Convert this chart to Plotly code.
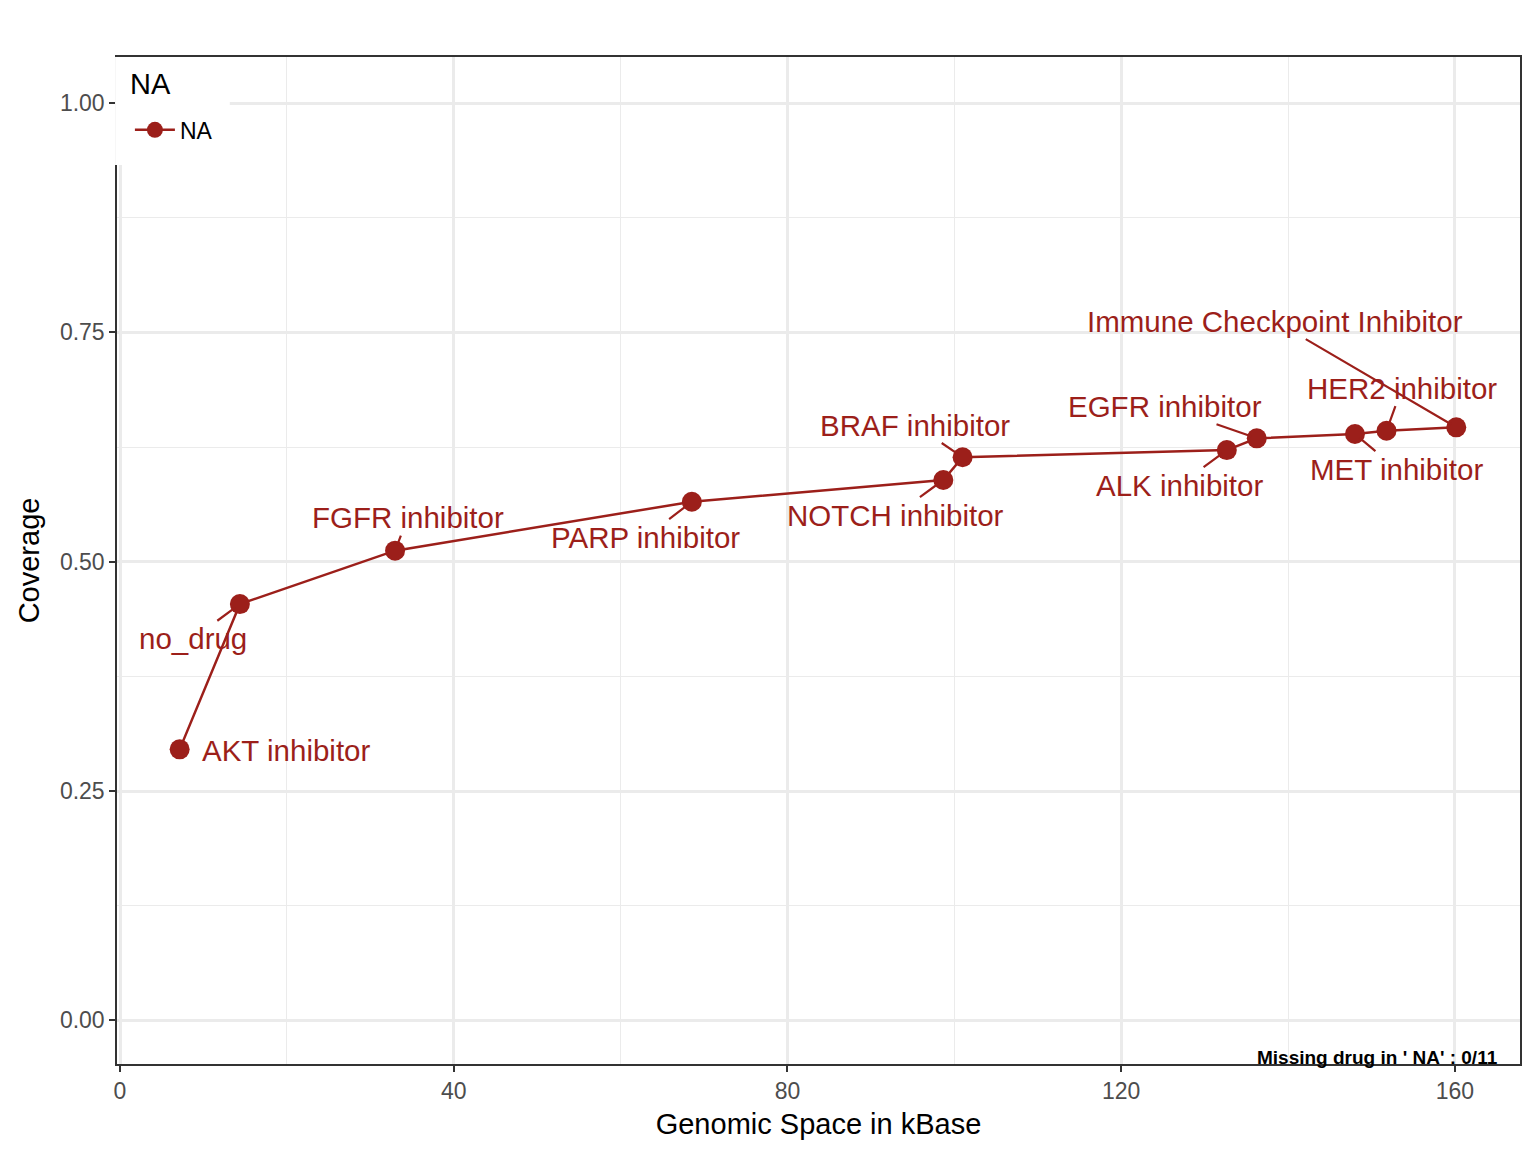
import plotly.graph_objects as go

# drug set coverage vs genomic space
drugs = ['AKT inhibitor', 'no_drug', 'FGFR inhibitor', 'PARP inhibitor', 'NOTCH inhibitor',
         'BRAF inhibitor', 'ALK inhibitor', 'EGFR inhibitor', 'MET inhibitor', 'HER2 inhibitor',
         'Immune Checkpoint Inhibitor']
genomic_kb = [7.15, 14.37, 32.97, 68.54, 98.68, 100.99, 132.66, 136.25, 148.02, 151.8, 160.16]
coverage = [0.2954, 0.4538, 0.512, 0.5654, 0.5891, 0.6138, 0.6217, 0.6345, 0.6392, 0.6428, 0.6465]

# where the repelled labels sit (data units)
label_x = [20.0, 8.74, 34.49, 63.0, 92.93, 95.33, 126.95, 125.27, 153.05, 153.65, 138.44]
label_y = [0.2947, 0.416, 0.548, 0.5268, 0.5508, 0.649, 0.5834, 0.6695, 0.6009, 0.6892, 0.7623]
x_ticks = [0, 40, 80, 120, 160]
y_ticks = [0.0, 0.25, 0.5, 0.75, 1.0]
missing_note = "Missing drug in ' NA' : 0/11"

red = '#9C1F1A'
font = 'Liberation Sans, Arial, Helvetica, sans-serif'

fig = go.Figure()
fig.add_trace(go.Scatter(
    x=genomic_kb, y=coverage, mode='lines+markers', name='NA',
    line=dict(color=red, width=2.5),
    marker=dict(color=red, size=20),
    hovertext=drugs,
))

for i, d in enumerate(drugs):
    fig.add_annotation(
        x=genomic_kb[i], y=coverage[i], text=d,
        axref='x', ayref='y', ax=label_x[i], ay=label_y[i],
        showarrow=True, arrowhead=0, arrowwidth=2.2, standoff=6, startstandoff=0,
        arrowcolor=red if d != 'AKT inhibitor' else 'rgba(0,0,0,0)',
        font=dict(size=29.5, color=red, family=font),
    )

fig.add_annotation(
    x=1, y=0, xref='paper', yref='paper', xanchor='right', yanchor='bottom',
    xshift=-20, yshift=-6, text='<b>' + missing_note + '</b>', showarrow=False,
    font=dict(size=19, color='black', family=font),
)

# white legend box sitting over the top-left of the panel, like ggplot's
fig.add_shape(type='rect', xref='paper', yref='paper',
              x0=-0.0014, x1=0.0804, y0=0.8928, y1=1.0,
              fillcolor='white', line=dict(width=0), layer='above')
fig.add_annotation(x=0.0078, y=0.9732, xref='paper', yref='paper',
                   xanchor='left', yanchor='middle', text='NA', showarrow=False,
                   font=dict(size=29, color='black', family=font))

axis_common = dict(
    showline=True, linecolor='#333333', linewidth=1.5, mirror=True,
    ticks='outside', ticklen=6, tickwidth=2, tickcolor='#333333',
    tickfont=dict(size=23, color='#4D4D4D', family=font),
    gridcolor='#EBEBEB', gridwidth=2.5, zeroline=False,
)

fig.update_xaxes(
    range=[-0.36, 167.8], tickvals=x_ticks,
    minor=dict(dtick=20, tick0=0, gridcolor='#EBEBEB', gridwidth=1.2, ticks=''),
    title=dict(text='Genomic Space in kBase', font=dict(size=29, color='black', family=font), standoff=10),
    **axis_common,
)
fig.update_yaxes(
    range=[-0.0476, 1.0502], tickvals=y_ticks, ticktext=['0.00', '0.25', '0.50', '0.75', '1.00'],
    minor=dict(dtick=0.125, tick0=0, gridcolor='#EBEBEB', gridwidth=1.2, ticks=''),
    title=dict(text='Coverage', font=dict(size=29, color='black', family=font), standoff=12),
    **axis_common,
)

# page body has an 8px margin, so the figure is 16px smaller and the margins shifted
fig.update_layout(
    width=1520, height=1136,
    margin=dict(l=109, r=6, t=49, b=80),
    paper_bgcolor='white', plot_bgcolor='white',
    font=dict(family=font),
    showlegend=True,
    legend=dict(
        x=0.0092, y=0.949, xref='paper', yref='paper', xanchor='left', yanchor='top',
        bgcolor='rgba(0,0,0,0)', borderwidth=0, itemwidth=40,
        font=dict(size=23, color='black', family=font),
    ),
)

fig.write_html('out.html')
